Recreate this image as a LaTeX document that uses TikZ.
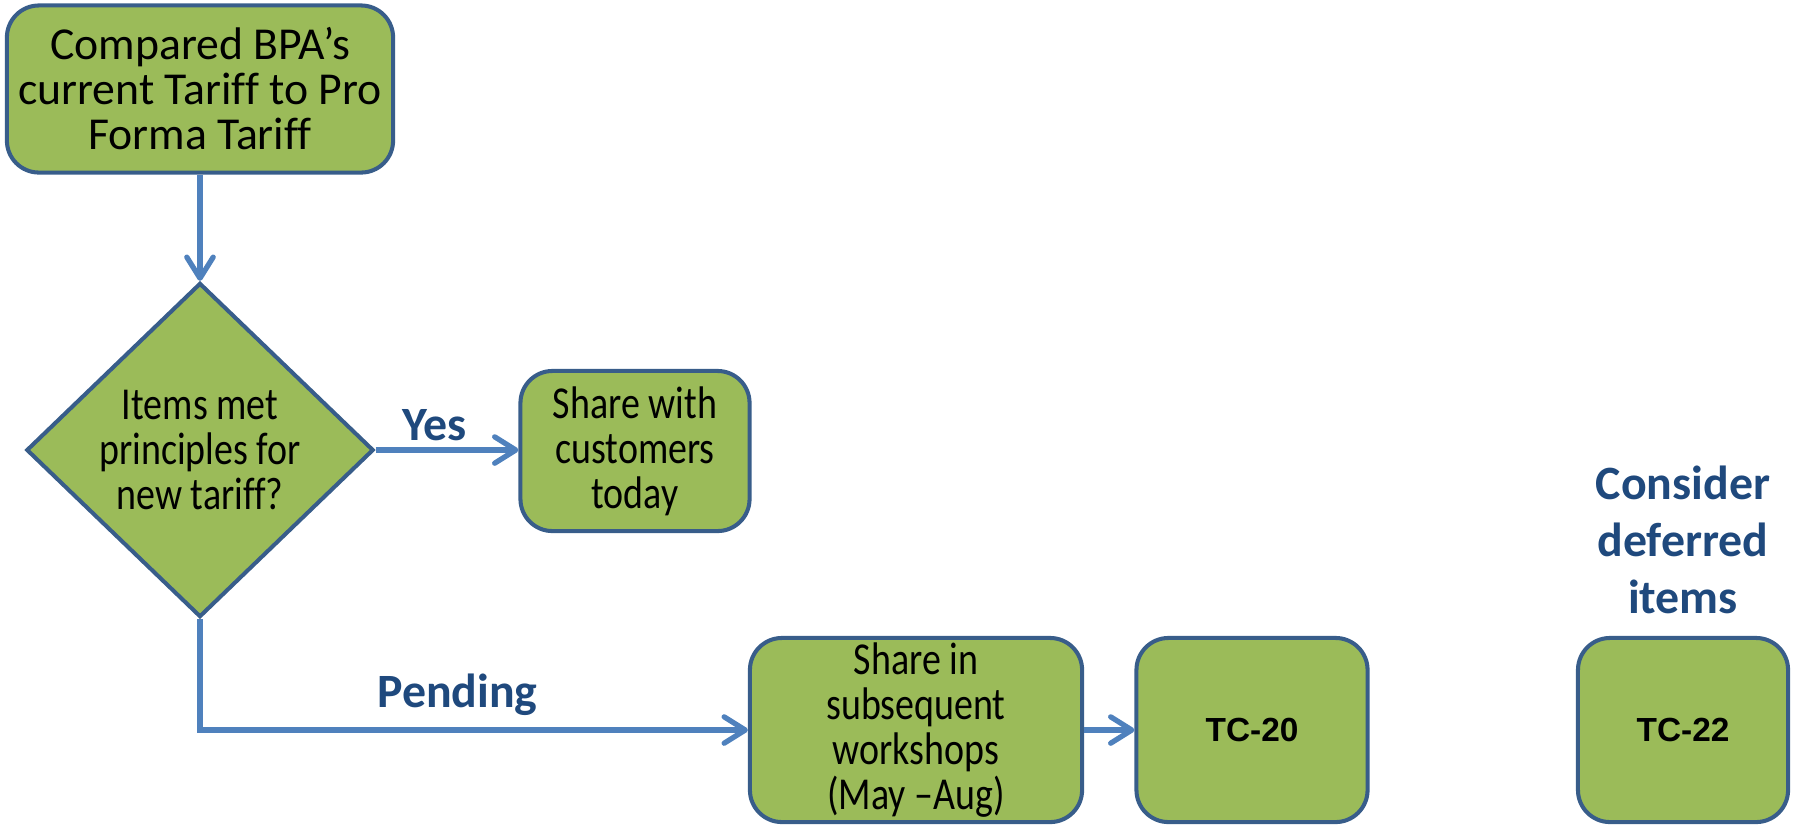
\documentclass[tikz,border=0pt]{standalone}
\usepackage{fontspec}
\setmainfont[Ligatures=NoCommon]{Carlito}
\newfontfamily\narrowfont[Ligatures=NoCommon, FakeStretch=0.83]{Carlito}
\newfontfamily\arialfont{Liberation Sans}
\usetikzlibrary{shapes.geometric,arrows.meta}
\definecolor{boxgreen}{HTML}{9BBB59}
\definecolor{boxline}{HTML}{385D8A}
\definecolor{flowblue}{HTML}{4F81BD}
\definecolor{labelblue}{HTML}{1F497D}
\tikzset{
  stepbox/.style={draw=boxline, fill=boxgreen, line width=1.15pt, rounded corners=0.32cm, inner sep=0pt, align=center, font=\fontsize{13}{12.8}\selectfont},
  narrowbox/.style={stepbox, font=\narrowfont\fontsize{13}{12.8}\selectfont},
  choice/.style={draw=boxline, fill=boxgreen, line width=1.15pt, diamond, inner sep=-0.06cm, align=center, font=\narrowfont\fontsize{13}{12.8}\selectfont},
  flow/.style={draw=flowblue, line width=1.5pt, -{Straight Barb[round, length=6pt, width=7.5pt]}},
  tag/.style={text=labelblue, font=\fontsize{13.6}{16.2}\selectfont\bfseries, align=center}
}
\begin{document}
\begin{tikzpicture}[x=0.01cm, y=-0.01cm]
\useasboundingbox (0,0) rectangle (1795,826);
\node[stepbox, minimum width=3.86cm, minimum height=1.67cm] (compare) at (200,89) {Compared BPA’s\\current Tariff to Pro\\Forma Tariff};
\node[choice, minimum width=3.47cm, minimum height=3.34cm] (decide) at (200,450) {Items met\\principles for\\new tariff?};
\node[narrowbox, minimum width=2.29cm, minimum height=1.6cm] (today) at (635,451) {Share with\\customers\\today};
\node[narrowbox, minimum width=3.32cm, minimum height=1.84cm] (workshop) at (916,730) {Share in\\subsequent\\workshops\\(May –Aug)};
\node[stepbox, minimum width=2.31cm, minimum height=1.84cm, font=\arialfont\fontsize{9.5}{11}\selectfont\bfseries] (tc20) at (1252,730) {TC-20};
\node[stepbox, minimum width=2.1cm, minimum height=1.84cm, font=\arialfont\fontsize{9.5}{11}\selectfont\bfseries] (tc22) at (1683,730) {TC-22};
\node[tag] (deferred) at (1683,540) {Consider\\deferred\\items};
\draw[flow] (compare) -- (decide);
\draw[flow] (decide.east) -- node[tag, pos=0.41, above=-1.5pt] {Yes} (today.west |- decide.east);
\draw[flow] (decide.south) |- node[tag, pos=0.735, above=0pt] {Pending} (workshop.west);
\draw[flow] (workshop) -- (tc20);
\end{tikzpicture}
\end{document}
